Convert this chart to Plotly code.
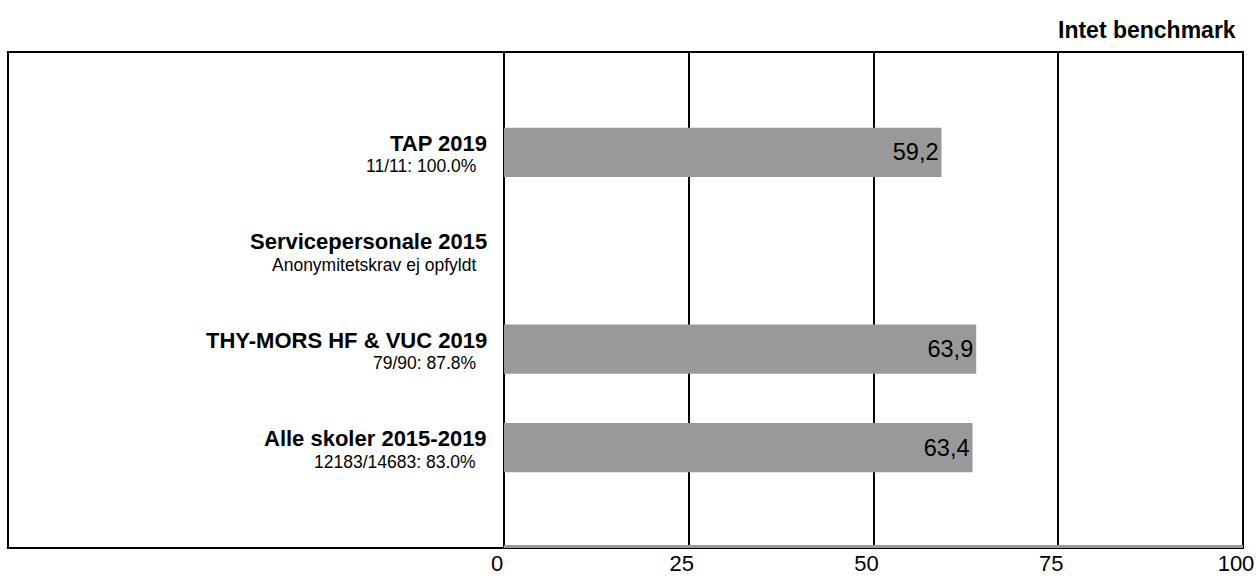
import plotly.graph_objects as go

categories = ["TAP 2019", "Servicepersonale 2015", "THY-MORS HF & VUC 2019", "Alle skoler 2015-2019"]
subtitles = ["11/11: 100.0%", "Anonymitetskrav ej opfyldt", "79/90: 87.8%", "12183/14683: 83.0%"]
values = [59.2, None, 63.9, 63.4]
value_labels = ["59,2", "", "63,9", "63,4"]
x_ticks = [0, 25, 50, 75, 100]
benchmark_text = "Intet benchmark"

FONT = "Liberation Sans, Arial, sans-serif"
W, H = 1256, 578
ml, mr, mt, mb = 8, 13, 52, 30
x_dom0 = (504 - ml) / (W - ml - mr)

fig = go.Figure()
fig.add_trace(go.Bar(
    y=categories, x=values, orientation="h",
    marker=dict(color="#999999", line=dict(width=0)),
    width=0.5,
    text=value_labels, textposition="inside", insidetextanchor="end",
    textfont=dict(family=FONT, size=23.5, color="#000000"),
    cliponaxis=False, hoverinfo="skip",
))

annotations = []
for cat, sub in zip(categories, subtitles):
    annotations.append(dict(
        x=x_dom0, xref="paper", y=cat, yref="y", text=f"<b>{cat}</b>",
        xanchor="right", yanchor="middle", xshift=-15, yshift=9, showarrow=False,
        font=dict(family=FONT, size=22, color="#000000"),
    ))
    annotations.append(dict(
        x=x_dom0, xref="paper", y=cat, yref="y", text=sub,
        xanchor="right", yanchor="middle", xshift=-26, yshift=-14, showarrow=False,
        font=dict(family=FONT, size=17.5, color="#000000"),
    ))
annotations.append(dict(
    x=1, xref="paper", y=1, yref="paper", text=f"<b>{benchmark_text}</b>",
    xanchor="right", yanchor="middle", xshift=-5, yshift=22, showarrow=False,
    font=dict(family=FONT, size=23, color="#000000"),
))

shapes = [
    dict(type="rect", xref="paper", yref="paper", x0=0, x1=1, y0=0, y1=1,
         line=dict(color="#000000", width=2), fillcolor="rgba(0,0,0,0)", layer="above"),
    dict(type="line", xref="x", yref="paper", x0=0, x1=100, y0=0.003, y1=0.003,
         line=dict(color="#999999", width=3), layer="above"),
]

fig.update_layout(
    width=W, height=H,
    margin=dict(l=ml, r=mr, t=mt, b=mb, autoexpand=False),
    paper_bgcolor="#ffffff", plot_bgcolor="#ffffff",
    showlegend=False,
    annotations=annotations,
    shapes=shapes,
    xaxis=dict(
        domain=[x_dom0, 1], range=[0, 100], tickvals=x_ticks,
        ticktext=[str(v) for v in x_ticks],
        showgrid=True, gridcolor="#000000", gridwidth=2,
        zeroline=True, zerolinecolor="#000000", zerolinewidth=2,
        showline=False, ticks="", ticklabelshift=-7,
        automargin=False,
        tickfont=dict(family=FONT, size=22, color="#000000"),
        fixedrange=True,
    ),
    yaxis=dict(
        type="category", categoryorder="array", categoryarray=categories,
        range=[4.02, -1.02], showticklabels=False, showgrid=False,
        zeroline=False, showline=False, ticks="", fixedrange=True,
        automargin=False,
    ),
)

fig.write_html("out.html")
